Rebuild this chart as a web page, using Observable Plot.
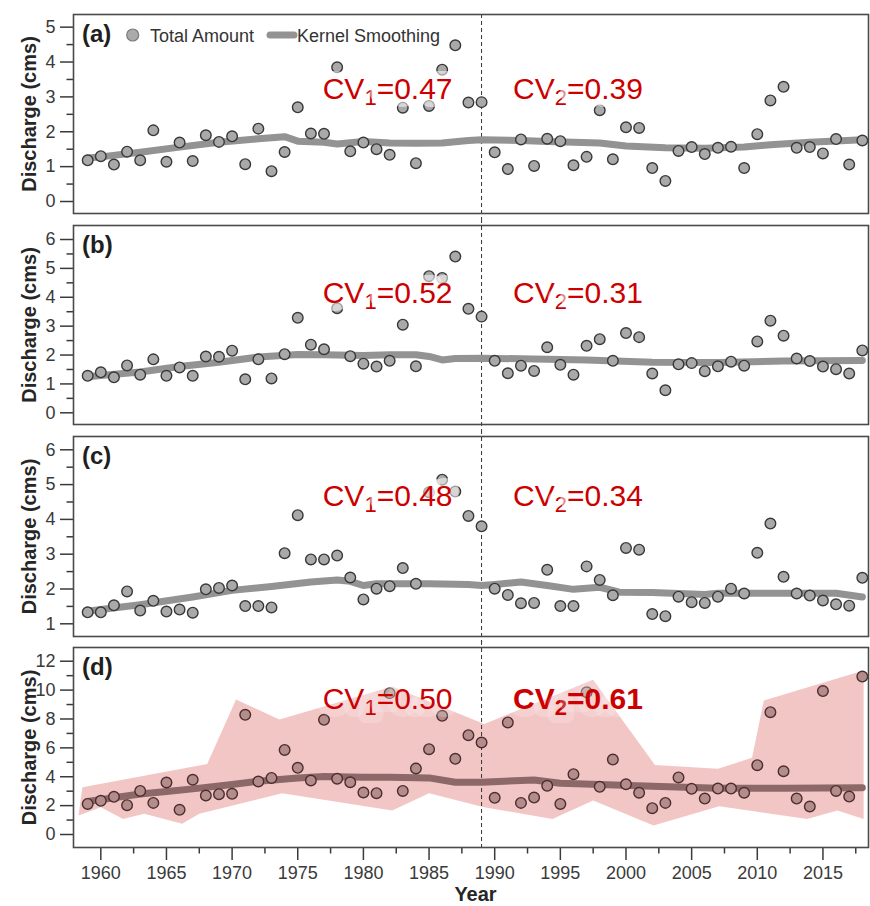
<!DOCTYPE html>
<html><head><meta charset="utf-8">
<script src="https://cdn.jsdelivr.net/npm/d3@7"></script>
<script src="https://cdn.jsdelivr.net/npm/@observablehq/plot@0.6"></script>
<style>
html,body{margin:0;padding:0;background:#fff;}
#chart{position:relative;width:870px;height:906px;overflow:hidden;font-family:"Liberation Sans",Arial,Helvetica,sans-serif;}
#chart svg{position:absolute;left:0;overflow:visible;background:transparent;}
</style></head><body><div id="chart"></div>
<script>
// ---------- data ----------
const years = [1959,1960,1961,1962,1963,1964,1965,1966,1967,1968,
  1969,1970,1971,1972,1973,1974,1975,1976,1977,1978,
  1979,1980,1981,1982,1983,1984,1985,1986,1987,1988,
  1989,1990,1991,1992,1993,1994,1995,1996,1997,1998,
  1999,2000,2001,2002,2003,2004,2005,2006,2007,2008,
  2009,2010,2011,2012,2013,2014,2015,2016,2017,2018];

const totalA = [1.18,1.30,1.06,1.43,1.18,2.04,1.14,1.69,1.16,1.90,
  1.71,1.87,1.07,2.09,0.87,1.42,2.70,1.95,1.94,3.85,
  1.44,1.69,1.50,1.34,2.69,1.10,2.74,3.78,4.48,2.84,
  2.85,1.41,0.93,1.78,1.02,1.80,1.73,1.04,1.28,2.62,
  1.21,2.13,2.11,0.96,0.59,1.45,1.56,1.36,1.54,1.57,
  0.96,1.93,2.90,3.29,1.54,1.56,1.38,1.79,1.06,1.75];
const totalB = [1.28,1.40,1.23,1.64,1.32,1.85,1.28,1.57,1.28,1.95,
  1.94,2.15,1.16,1.85,1.19,2.03,3.29,2.36,2.20,3.62,
  1.96,1.70,1.60,1.80,3.05,1.61,4.73,4.67,5.41,3.60,
  3.33,1.80,1.37,1.63,1.45,2.27,1.66,1.32,2.32,2.55,
  1.80,2.76,2.62,1.36,0.78,1.68,1.72,1.44,1.61,1.77,
  1.63,2.47,3.19,2.67,1.88,1.79,1.60,1.51,1.36,2.16];
const totalC = [1.33,1.33,1.53,1.93,1.38,1.66,1.35,1.41,1.32,1.99,
  2.03,2.10,1.51,1.51,1.47,3.03,4.12,2.85,2.85,2.96,
  2.33,1.70,2.01,2.08,2.60,2.15,4.78,5.14,4.80,4.10,
  3.80,2.01,1.83,1.59,1.60,2.55,1.51,1.51,2.65,2.26,
  1.82,3.18,3.13,1.28,1.22,1.78,1.62,1.60,1.78,2.01,
  1.87,3.04,3.88,2.35,1.87,1.81,1.67,1.56,1.52,2.32];
const totalD = [2.12,2.33,2.61,2.03,3.02,2.19,3.60,1.71,3.79,2.70,
  2.79,2.82,8.29,3.67,3.92,5.86,4.62,3.74,7.94,3.86,
  3.62,2.91,2.86,9.79,3.02,4.57,5.91,8.22,5.24,6.88,
  6.37,2.54,7.76,2.19,2.56,3.37,2.12,4.18,9.85,3.30,
  5.19,3.48,2.89,1.82,2.19,3.95,3.16,2.49,3.18,3.18,
  2.89,4.80,8.47,4.38,2.49,1.94,9.93,3.02,2.63,10.94];

// kernel smoothing
const smoothYearsA = [1959,1960,1963,1966,1969,1972,1974,1975,1977,1978,1980,1982,1984,1986,1988,1989,1992,1994,1998,2000,2003,2006,2009,2011,2014,2018];
const smoothA = [1.25,1.28,1.41,1.56,1.70,1.80,1.86,1.73,1.70,1.65,1.72,1.68,1.67,1.68,1.75,1.77,1.75,1.72,1.68,1.59,1.54,1.53,1.56,1.63,1.70,1.77];
const smoothYearsB = [1959,1960,1963,1966,1969,1972,1975,1977,1980,1982,1984,1985,1986,1987,1989,1992,1997,2002,2007,2012,2018];
const smoothB = [1.25,1.29,1.41,1.60,1.75,1.93,2.02,2.01,1.98,2.01,2.01,1.95,1.83,1.88,1.89,1.87,1.83,1.75,1.74,1.79,1.81];
const smoothYearsC = [1959,1960,1963,1967,1970,1973,1976,1978,1979,1980,1981,1982,1985,1988,1989,1990,1992,1994,1996,1998,1999.5,2002,2006,2007,2012,2016,2018];
const smoothC = [1.36,1.41,1.55,1.77,1.96,2.07,2.20,2.26,2.22,2.10,2.15,2.15,2.15,2.13,2.10,2.13,2.20,2.10,1.99,2.05,1.91,1.90,1.84,1.88,1.88,1.88,1.77];
const smoothYearsD = [1959,1961,1963,1965,1967,1970,1972,1975,1977,1980,1982,1985,1987,1989,1993,1995,1998,2002,2007,2012,2018];
const smoothD = [2.28,2.54,2.81,2.98,3.16,3.46,3.69,3.92,4.02,3.97,3.97,3.92,3.62,3.62,3.78,3.55,3.46,3.35,3.21,3.21,3.23];

// uncertainty envelope of panel (d)
const bandUpperYears = [1958.6,1968.1,1970.3,1973.6,1982.2,1989.2,1997.5,2002.2,2007.0,2009.6,2010.5,2018.1];
const bandUpper = [3.28,4.89,9.35,7.96,10.25,7.66,10.71,4.82,4.55,5.31,9.28,11.36];
const bandLowerYears = [1958.3,1960.0,1961.7,1963.3,1966.2,1967.5,1973.8,1982.2,1985.0,1989.2,1994.4,1997.5,2002.1,2007.1,2013.8,2016.1,2018.1];
const bandLower = [1.32,1.89,1.08,1.43,0.74,1.43,2.86,1.66,2.86,1.89,1.08,2.35,0.62,1.96,1.08,1.66,1.08];

const panelLabels = ["(a)","(b)","(c)","(d)"];
const cvTexts = [["CV_1=0.47","CV_2=0.39"],["CV_1=0.52","CV_2=0.31"],["CV_1=0.48","CV_2=0.34"],["CV_1=0.50","CV_2=0.61"]];
const cvBold = [[false,false],[false,false],[false,false],[false,true]];
const cvYears = [1976.9, 1991.4];
const cvValues = [3.22, 4.13, 4.65, 9.37];
const splitYear = 1989;

const yMajorTicks = [[0,1,2,3,4,5],[0,1,2,3,4,5,6],[1,2,3,4,5,6],[0,2,4,6,8,10,12]];
const yMinorTicks = [[0.5,1.5,2.5,3.5,4.5],[0.5,1.5,2.5,3.5,4.5,5.5],[1.5,2.5,3.5,4.5,5.5],[1,3,5,7,9,11]];
const xMajorTicks = [1960,1965,1970,1975,1980,1985,1990,1995,2000,2005,2010,2015];
const xMinorTicks = [1962.5,1967.5,1972.5,1977.5,1982.5,1987.5,1992.5,1997.5,2002.5,2007.5,2012.5,2017.5];

const legendItems = ["Total Amount","Kernel Smoothing"];

// ---------- layout ----------
const FONT = '"Liberation Sans", Arial, Helvetica, sans-serif';
const W = 870, ML = 73, MR = 2, MT = 14;
const xDomain = [1957.92, 2018.47];
const frames = [
  {top: 14, h: 199, yDomain: [-0.344, 5.363]},
  {top: 225, h: 199, yDomain: [-0.405, 6.485]},
  {top: 436, h: 200, yDomain: [0.635, 6.382]},
  {top: 647, h: 200, yDomain: [-0.90, 12.95]}
];
const series = [totalA, totalB, totalC, totalD];
const smoothYears = [smoothYearsA, smoothYearsB, smoothYearsC, smoothYearsD];
const smooths = [smoothA, smoothB, smoothC, smoothD];

const root = document.getElementById("chart");

function panel(i) {
  const f = frames[i];
  const isLast = i === 3;
  const mb = isLast ? 906 - (f.top + f.h) : 14;
  const height = MT + f.h + mb;
  const pts = years.map((yr, k) => ({year: yr, value: series[i][k]}));
  const sm = smoothYears[i].map((yr, k) => ({year: yr, value: smooths[i][k]}));
  const dotFill = isLast ? "#b48c8c" : "#a9a9a9";
  const dotStroke = isLast ? "#4a2e2e" : "#383838";
  const lineColor = isLast ? "#8d6868" : "#939393";
  const cv = cvTexts[i].map((t, k) => ({text: t, year: cvYears[k], value: cvValues[i], bold: cvBold[i][k]}));
  const marks = [];
  if (isLast) {
    const ring = bandUpperYears.map((yr, k) => ({year: yr, value: bandUpper[k]}))
      .concat(bandLowerYears.map((yr, k) => ({year: yr, value: bandLower[k]})).reverse());
    marks.push(Plot.line(ring, {x: "year", y: "value", fill: "#f3c6c6", stroke: "none"}));
  }
  marks.push(Plot.ruleX([splitYear], {stroke: "#333", strokeWidth: 1, strokeDasharray: "4,3",
    insetTop: i === 0 ? 0 : -6, insetBottom: isLast ? 0 : -6}));
  marks.push(Plot.line(sm, {x: "year", y: "value", stroke: lineColor, strokeWidth: 7, strokeLinecap: "round", strokeLinejoin: "round"}));
  marks.push(Plot.dot(pts, {x: "year", y: "value", r: 5.3, fill: dotFill, stroke: dotStroke, strokeWidth: 1.4}));
  for (const b of [false, true]) {
    marks.push(Plot.text(cv.filter(d => d.bold === b), {x: "year", y: "value", text: "text", textAnchor: "start", lineAnchor: "middle",
      fontSize: 30, fontWeight: b ? "bold" : "normal", fill: "#cc0000", stroke: "white", strokeOpacity: isLast ? 0.2 : 0.55, strokeWidth: 16,
      strokeLinejoin: "round", paintOrder: "stroke"}));
  }
  marks.push(Plot.text([panelLabels[i]], {frameAnchor: "top-left", dx: 8.5, dy: 10.6, lineAnchor: "top", textAnchor: "start",
    fontSize: 24, fontWeight: "bold", fill: "#1f1f1f"}));
  marks.push(Plot.text(["Discharge (cms)"], {frameAnchor: "left", dx: -44.4, rotate: -90, textAnchor: "middle", lineAnchor: "middle",
    fontSize: 20, fontWeight: "bold", fill: "#262626"}));
  marks.push(Plot.axisY(yMajorTicks[i], {tickSize: 13, tickPadding: 5, fontSize: 18, label: null, color: "#3a3a3a", strokeWidth: 1.5, tickFormat: d => String(d)}));
  marks.push(Plot.axisY(yMinorTicks[i], {tickSize: 6.5, label: null, color: "#3a3a3a", strokeWidth: 1.5, tickFormat: () => ""}));
  if (isLast) {
    marks.push(Plot.axisX(xMajorTicks, {tickSize: 13, tickPadding: 6, fontSize: 18, label: null, color: "#3a3a3a", strokeWidth: 1.5, tickFormat: d => String(d)}));
    marks.push(Plot.axisX(xMinorTicks, {tickSize: 6.5, label: null, color: "#3a3a3a", strokeWidth: 1.5, tickFormat: () => ""}));
    marks.push(Plot.text(["Year"], {frameAnchor: "bottom", dx: 4.5, dy: 47.4, lineAnchor: "middle", fontSize: 20, fontWeight: "bold", fill: "#262626"}));
  }
  marks.push(Plot.frame({stroke: "#4a4a4a", strokeWidth: 1.6}));

  const svg = Plot.plot({
    width: W, height, marginLeft: ML, marginRight: MR, marginTop: MT, marginBottom: mb,
    x: {domain: xDomain, axis: isLast ? undefined : null},
    y: {domain: f.yDomain},
    style: {fontFamily: FONT, fontSize: "18px", background: "transparent", overflow: "visible", color: "#333"},
    marks
  });
  svg.style.top = (f.top - MT) + "px";
  // subscripts for CV labels
  d3.select(svg).selectAll("text").each(function () {
    const t = this.textContent;
    const m = /^CV_(\d)(.*)$/.exec(t);
    if (!m) return;
    const sel = d3.select(this);
    sel.text(null);
    sel.append("tspan").text("CV");
    sel.append("tspan").attr("font-size", "22px").attr("dy", "6").text(m[1]);
    sel.append("tspan").attr("dy", "-6").text(m[2]);
  });
  root.appendChild(svg);
}
for (let i = 0; i < 4; i++) panel(i);

// legend of panel (a)
const leg = d3.select(root).append("svg").attr("width", W).attr("height", 60)
  .style("top", "0px").style("font-family", FONT);
leg.append("circle").attr("cx", 132.7).attr("cy", 35).attr("r", 6).attr("fill", "#aaaaaa").attr("stroke", "#7a7a7a").attr("stroke-width", 1.2);
leg.append("text").attr("x", 150).attr("y", 41.7).attr("font-size", 18).attr("fill", "#333").text(legendItems[0]);
leg.append("line").attr("x1", 270).attr("x2", 294).attr("y1", 35).attr("y2", 35).attr("stroke", "#939393").attr("stroke-width", 7).attr("stroke-linecap", "round");
leg.append("text").attr("x", 297).attr("y", 41.7).attr("font-size", 18).attr("fill", "#333").text(legendItems[1]);
</script>
</body></html>
